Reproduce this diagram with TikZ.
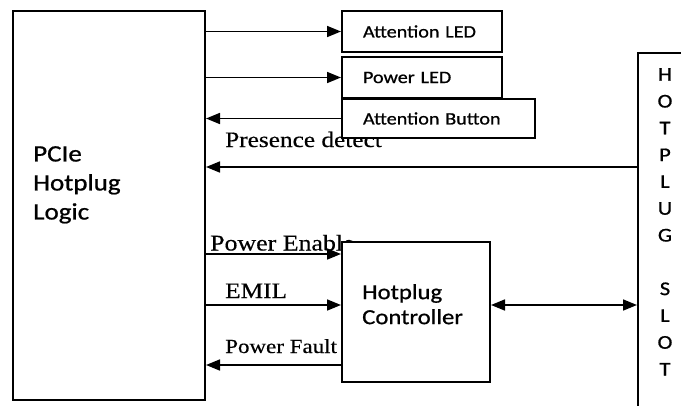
\documentclass[tikz,border=0pt]{standalone}
\usepackage{fontspec}
\newfontfamily\calfont[FakeStretch=1.15, FakeBold=0.8]{Carlito}
\newfontfamily\timesfont[FakeStretch=1.15, FakeBold=0.4]{Liberation Serif}
\usetikzlibrary{positioning,arrows.meta}

\begin{document}
\begin{tikzpicture}[x=1pt, y=-1pt,
  block/.style={rectangle, draw, line width=2pt, fill=white, anchor=north west, inner xsep=21pt, inner ysep=0pt, align=left, font=\calfont\fontsize{17.5}{20}\selectfont},
  sig/.style={-{Triangle[length=14pt, width=11pt]}, line width=1.7pt},
  lbl/.style={anchor=base west, inner sep=0pt}
]
\useasboundingbox (0,0) rectangle (681,405);
\clip (0,0) rectangle (681,405);

% Signal names (the blocks are drawn over them)
\node[lbl, font=\timesfont\fontsize{22}{25}\selectfont] (presence) at (225,147) {Presence detect};
\node[lbl, font=\timesfont\fontsize{22.5}{25}\selectfont] (pwren) at (210,250.5) {Power Enable};
\node[lbl, font=\timesfont\fontsize{22}{25}\selectfont] (emil) at (225,298) {EMIL};
\node[lbl, font=\timesfont\fontsize{20}{25}\selectfont] (pwrfault) at (225,353) {Power Fault};

% Blocks
\node[block, minimum width=192pt, minimum height=389pt] (pcie) at (12,10) {};
\node[anchor=north west, inner sep=0pt, align=left, font=\calfont\fontsize{23.5}{29}\selectfont] (pcielbl) at (33,146) {PCIe\\Hotplug\\Logic};

\node[block, minimum width=160pt, minimum height=41pt, text width=118pt] (aled) at (341,10) {Attention LED};
\node[block, minimum width=160pt, minimum height=41pt, text width=118pt] (pled) at (341,56) {Power LED};
\node[block, minimum width=193pt, minimum height=39pt, text width=151pt] (abtn) at (341,98) {Attention Button};

\node[block, minimum width=148pt, minimum height=140pt] (ctrl) at (341,241) {};
\node[anchor=north west, inner sep=0pt, align=left, font=\calfont\fontsize{21.5}{25}\selectfont] (ctrllbl) at (362,284) {Hotplug\\Controller};

\node[block, minimum width=100pt, minimum height=400pt] (slot) at (637,52) {};
\node[anchor=north, inner sep=0pt, align=center, font=\calfont\fontsize{19.5}{26.8}\selectfont] (slotlbl) at (665,68) {H\\O\\T\\P\\L\\U\\G\\\mbox{}\\S\\L\\O\\T};

% Signal taps
\coordinate (pdet) at (637,167);
\coordinate (pen) at (341,254);
\coordinate (em) at (341,305);
\coordinate (pf) at (341,365);

% Connectors
\draw[sig] (pcie.east |- aled.west) -- (aled.west);
\draw[sig] (pcie.east |- pled.west) -- (pled.west);
\draw[sig] (abtn.west) -- (abtn.west -| pcie.east);
\draw[sig] (pdet) -- (pdet -| pcie.east);
\draw[sig] (pen -| pcie.east) -- (pen);
\draw[sig] (em -| pcie.east) -- (em);
\draw[sig] (pf) -- (pf -| pcie.east);
\draw[sig, {Triangle[length=14pt, width=11pt]}-{Triangle[length=14pt, width=11pt]}] (em -| ctrl.east) -- (em -| slot.west);

\end{tikzpicture}
\end{document}
